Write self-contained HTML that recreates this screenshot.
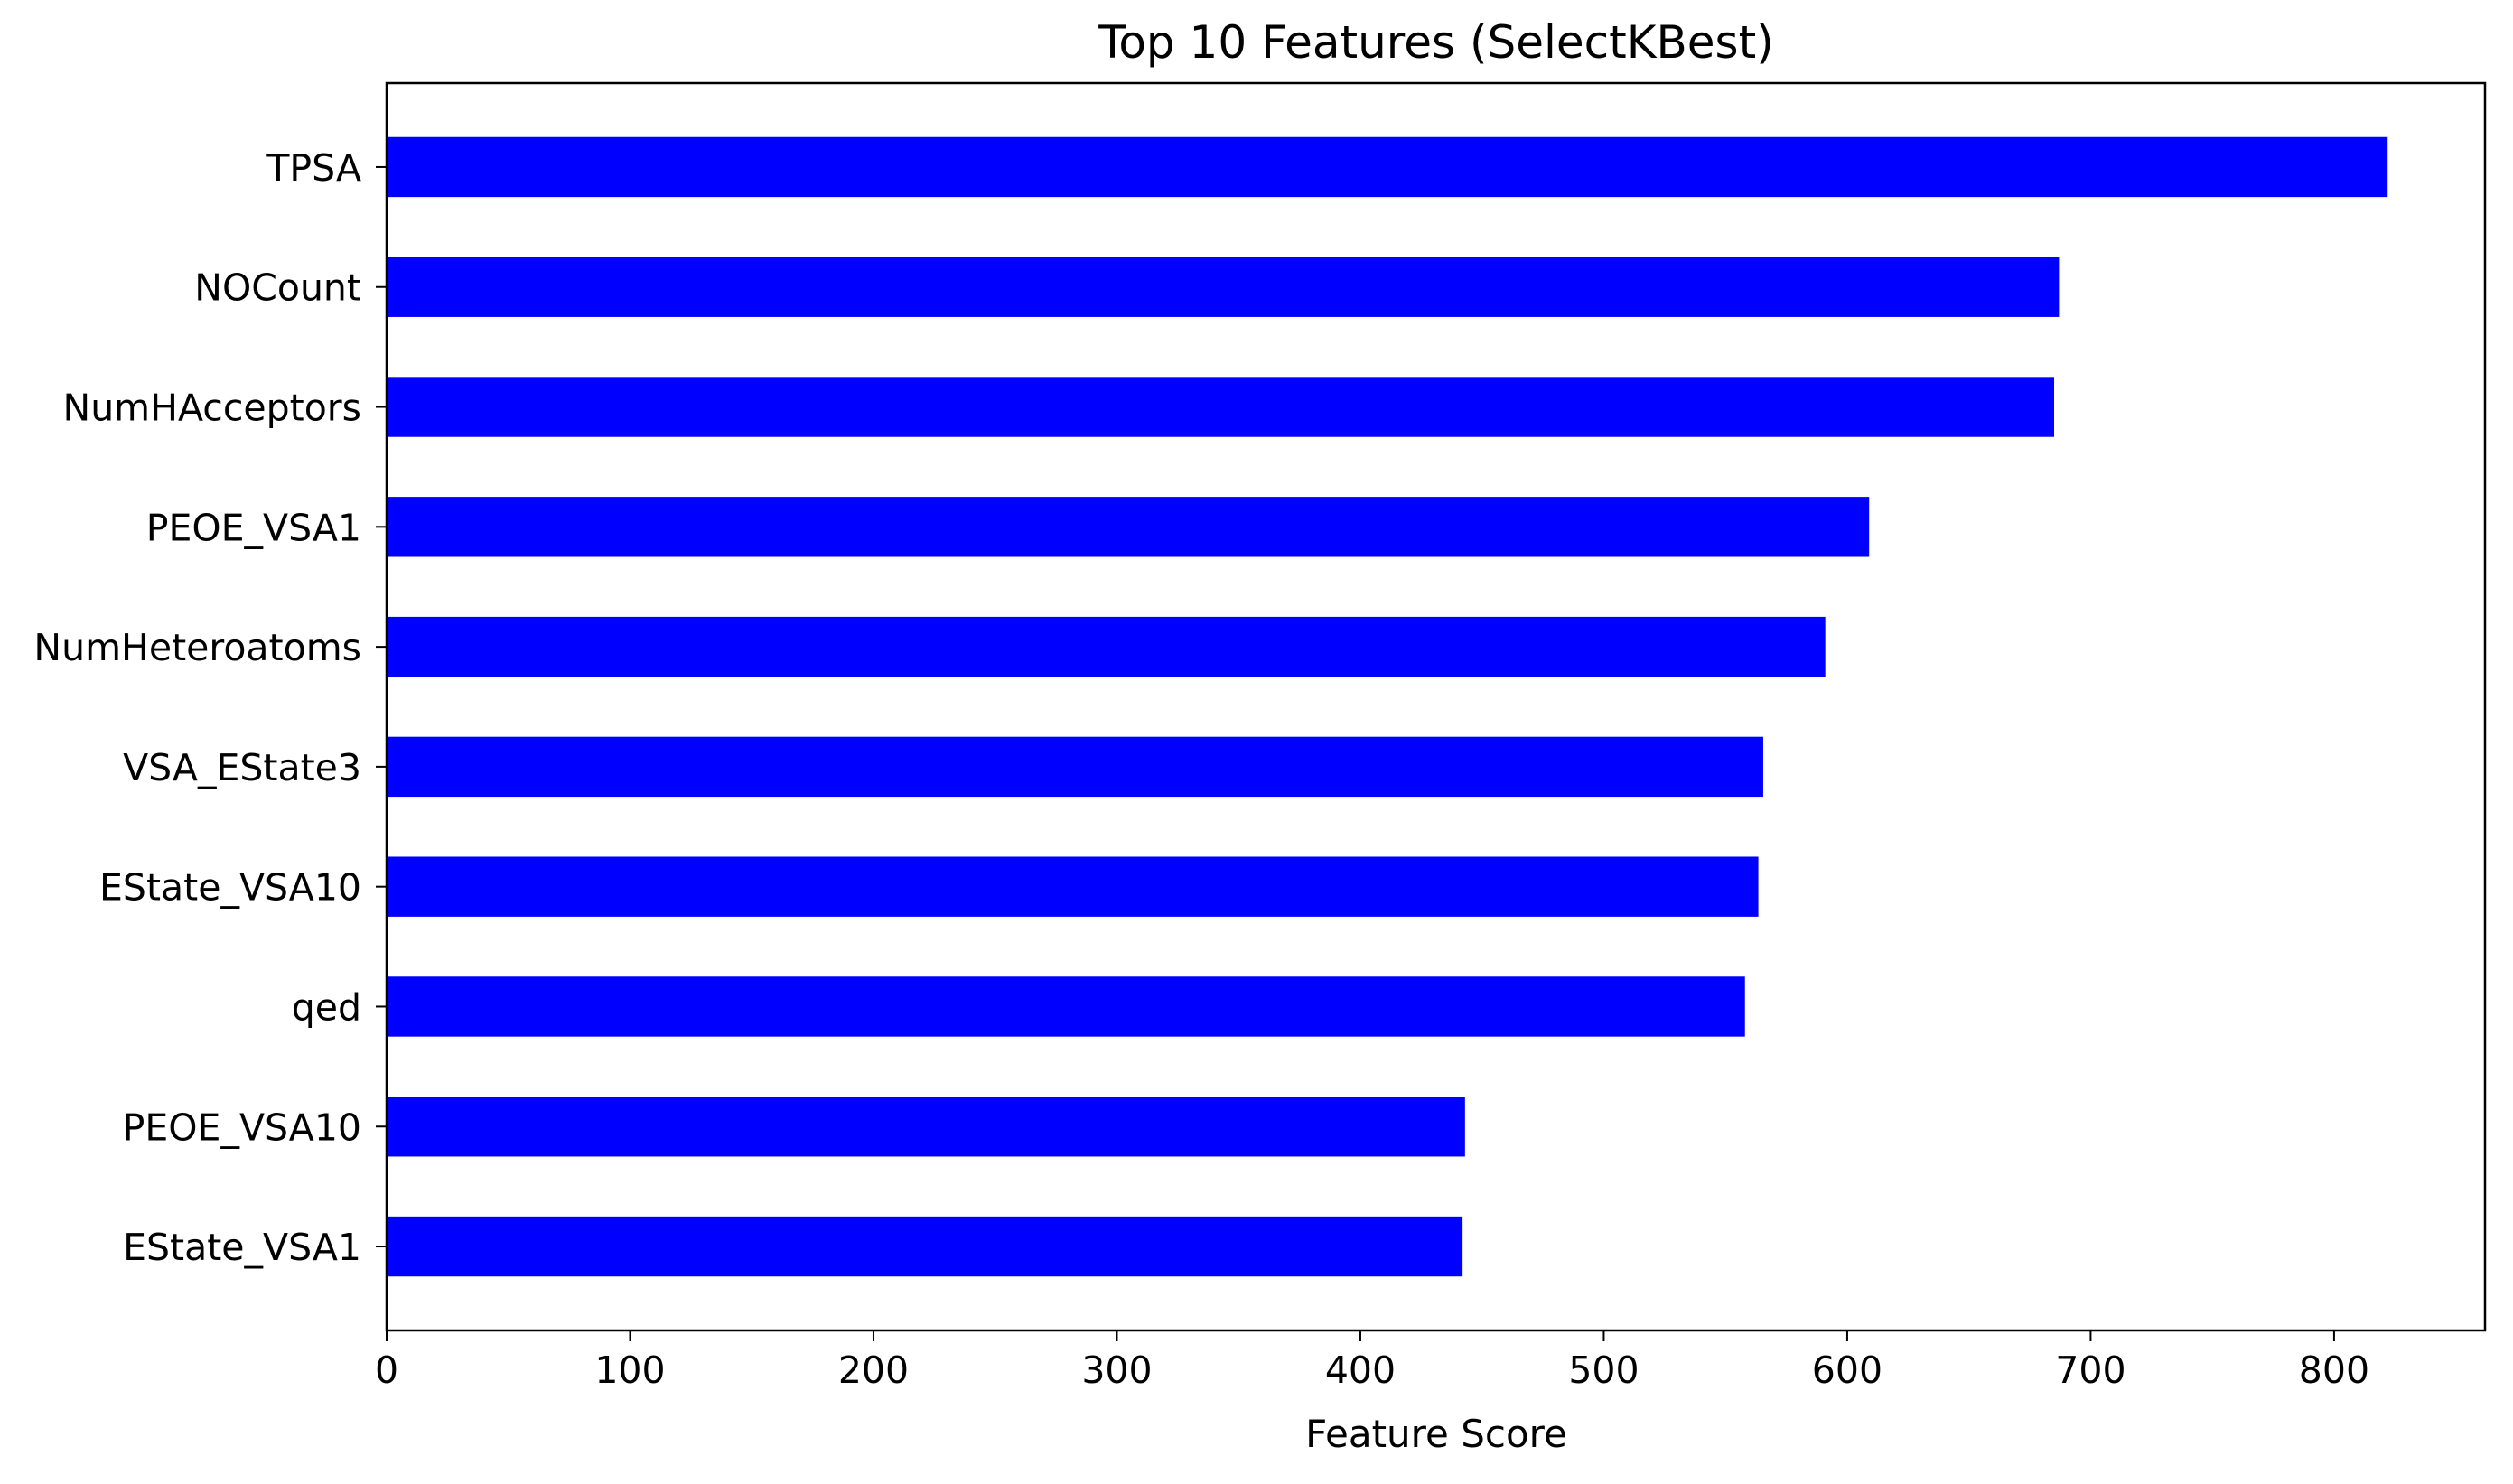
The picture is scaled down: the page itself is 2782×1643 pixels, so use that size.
<!DOCTYPE html>
<html><head><meta charset="utf-8"><style>
html,body{margin:0;padding:0;background:#fff}
svg text{font-family:"DejaVu Sans","Liberation Sans",sans-serif;fill:#000}
</style></head><body>
<svg id="chart" width="2782" height="1638" viewBox="0 0 2782 1638" xmlns="http://www.w3.org/2000/svg">
<text x="1590" y="64" font-size="50" text-anchor="middle">Top 10 Features (SelectKBest)</text>
<g id="bars"></g>
<g id="axes"></g>
<text x="1590" y="1602" font-size="42" text-anchor="middle">Feature Score</text>
</svg>
<script>
const features = ["TPSA","NOCount","NumHAcceptors","PEOE_VSA1","NumHeteroatoms","VSA_EState3","EState_VSA10","qed","PEOE_VSA10","EState_VSA1"];
const scores = [822,687,685,609,591,565.5,563.5,558,443,442];
const xTicks = [0,100,200,300,400,500,600,700,800];

const L=428,R=2751,T=92,B=1473;
const xMax=862;
function xs(v){return L+(v/xMax)*(R-L);}
const yMin=-0.7,yMax=9.7;
function ys(i){return B-((features.length-1-i)-yMin)/(yMax-yMin)*(B-T);}
const bandH=(B-T)/(yMax-yMin);
const NS="http://www.w3.org/2000/svg";
const bars=document.getElementById('bars'),axes=document.getElementById('axes');
function mk(tag,attrs,parent){const e=document.createElementNS(NS,tag);for(const k in attrs)e.setAttribute(k,attrs[k]);parent.appendChild(e);return e;}
features.forEach((f,i)=>{
  const cy=ys(i);
  const r=mk('rect',{x:xs(0),y:cy-bandH*0.25,width:xs(scores[i])-xs(0),height:bandH*0.5,fill:'#0000ff'},bars);
  
  
  const t=mk('line',{x1:L-12,x2:L,y1:cy,y2:cy,stroke:'#000','stroke-width':2},axes);
  
  
  const lb=mk('text',{x:L-28,y:cy+15,'font-size':41,'text-anchor':'end'},axes);
  lb.textContent=f;
  
  
});
xTicks.forEach(v=>{
  const x=xs(v);
  const t=mk('line',{x1:x,x2:x,y1:B,y2:B+12,stroke:'#000','stroke-width':2},axes);
  
  
  const lb=mk('text',{x:x,y:B+58,'font-size':41,'text-anchor':'middle'},axes);
  lb.textContent=v;
  
  
});
const frame=mk('rect',{x:L,y:T,width:R-L,height:B-T,fill:'none',stroke:'#000','stroke-width':2.5},axes);


</script>
</body></html>
